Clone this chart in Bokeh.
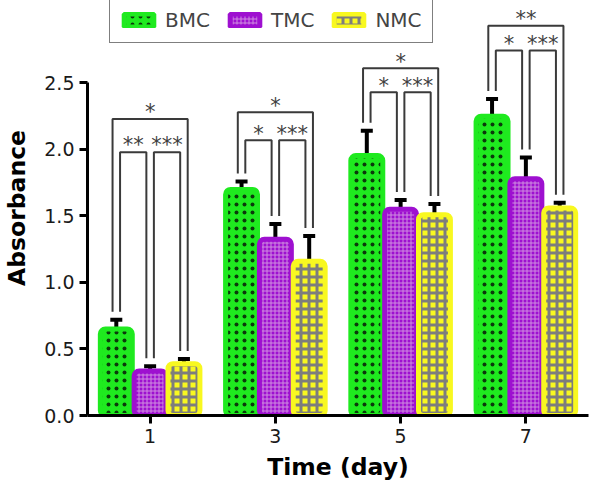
from bokeh.plotting import figure
from bokeh.models import (ColumnDataSource, Range1d, FixedTicker, Whisker, TeeHead,
                          Legend, LegendItem, NumeralTickFormatter)
from bokeh.core.properties import value
from bokeh.embed import file_html
from bokeh.resources import INLINE

# ---------------- data ----------------
days = [1, 3, 5, 7]
series = ["BMC", "TMC", "NMC"]
bmc = [0.65, 1.70, 1.955, 2.25]
bmc_err = [0.07, 0.06, 0.185, 0.13]
tmc = [0.335, 1.325, 1.55, 1.78]
tmc_err = [0.035, 0.115, 0.07, 0.16]
nmc = [0.39, 1.16, 1.51, 1.56]
nmc_err = [0.035, 0.19, 0.08, 0.04]
inner_level = [1.98, 2.07, 2.43, 2.745]
outer_level = [2.23, 2.28, 2.61, 2.93]
star_bn = ["*", "*", "*", "**"]
star_bt = ["**", "*", "*", "*"]
star_tn = ["***", "***", "***", "***"]
y_ticks = [0.0, 0.5, 1.0, 1.5, 2.0, 2.5]

# ---------------- style ----------------
OFF = 0.54
W = 0.51
LEG = 0.06
GAP = 0.06
colors = {"BMC": "#1fea1f", "TMC": "#9e10d0", "NMC": "#f8f820"}
hatch = {
    "BMC": dict(hatch_pattern="dot", hatch_color="#0b3a0b", hatch_scale=8, hatch_weight=1.0),
    "TMC": dict(hatch_pattern="cross", hatch_color="#cf8ee0", hatch_scale=4, hatch_weight=1.0),
    "NMC": dict(hatch_pattern="cross", hatch_color="#7d7d7d", hatch_scale=8, hatch_weight=3.0),
}
FONT = "DejaVu Sans"
FIG_W, FIG_H = 590, 487
B_BOTTOM = 72
FRAME_H = FIG_H - B_BOTTOM

p = figure(width=FIG_W, height=FIG_H, output_backend="svg", toolbar_location=None,
           x_range=Range1d(0, 8.0), y_range=Range1d(0, 3.12),
           min_border_left=83, min_border_right=2, min_border_top=0,
           min_border_bottom=B_BOTTOM)
p.outline_line_color = None
p.xgrid.visible = False
p.ygrid.visible = False

vals = {"BMC": bmc, "TMC": tmc, "NMC": nmc}
errs = {"BMC": bmc_err, "TMC": tmc_err, "NMC": nmc_err}
offs = {"BMC": -OFF, "TMC": 0.0, "NMC": OFF}

items = []
for s in series:
    xs = [d + offs[s] for d in days]
    top = vals[s]
    up = [t + e for t, e in zip(top, errs[s])]
    src = ColumnDataSource(dict(x=xs, top=top, up=up))
    r = p.vbar(x="x", top="top", width=W, source=src, fill_color=colors[s],
               line_color=colors[s], line_width=5, border_radius=5, **hatch[s])
    items.append(LegendItem(label=s, renderers=[r]))
    wk = Whisker(base="x", lower="top", upper="up", source=src, line_color="black",
                 line_width=4, lower_head=None,
                 upper_head=TeeHead(size=12, line_width=4, line_color="black"))
    p.add_layout(wk)

# significance brackets
bx, by, tx, ty, tt = [], [], [], [], []
for i, d in enumerate(days):
    cb, ct, cn = d - OFF, d, d + OFF
    bb = bmc[i] + bmc_err[i] + GAP
    bt = tmc[i] + tmc_err[i] + GAP
    bn = nmc[i] + nmc_err[i] + GAP
    bx.append([cb - LEG, cb - LEG, cn + LEG, cn + LEG]); by.append([bb, outer_level[i], outer_level[i], bn])
    bx.append([cb + LEG, cb + LEG, ct - LEG, ct - LEG]); by.append([bb, inner_level[i], inner_level[i], bt])
    bx.append([ct + LEG, ct + LEG, cn - LEG, cn - LEG]); by.append([bt, inner_level[i], inner_level[i], bn])
    tx += [(cb + cn) / 2, (cb + ct) / 2, (ct + cn) / 2]
    ty += [outer_level[i], inner_level[i], inner_level[i]]
    tt += [star_bn[i], star_bt[i], star_tn[i]]
p.multi_line(xs=bx, ys=by, line_color="#3a3a3a", line_width=2)
p.text(x=tx, y=[v + 0.05 for v in ty], text=tt, text_align="center", text_baseline="alphabetic",
       text_font=value("DejaVu Sans"), text_font_size="21px", text_color="#404040")

# axes
for ax in (p.xaxis[0], p.yaxis[0]):
    ax.axis_line_width = 3
    ax.major_tick_line_width = 3
    ax.major_tick_out = 8
    ax.major_tick_in = 0
    ax.minor_tick_line_color = None
    ax.major_label_text_font = FONT
    ax.major_label_text_font_size = "19px"
    ax.major_label_text_color = "#1a1a1a"
    ax.axis_label_text_font = FONT
    ax.axis_label_text_font_style = "bold"
    ax.axis_label_text_font_size = "23.5px"
    ax.axis_label_text_color = "black"
p.xaxis.ticker = FixedTicker(ticks=days)
p.yaxis.ticker = FixedTicker(ticks=y_ticks)
p.yaxis.formatter = NumeralTickFormatter(format="0.0")
p.yaxis.bounds = (0, 2.5)
p.xaxis.axis_label = "Time (day)"
p.yaxis.axis_label = "Absorbance"
p.xaxis.major_label_standoff = 5
p.yaxis.major_label_standoff = 5
p.xaxis.axis_label_standoff = 7
p.yaxis.axis_label_standoff = 10

LEG_H = 42
legend = Legend(items=items, orientation="horizontal", location=(22, FRAME_H - LEG_H - 1),
                glyph_width=37, glyph_height=16, label_standoff=8, spacing=16,
                padding=10, margin=0, label_text_font=FONT, label_text_font_size="20px",
                border_line_color="black", border_line_width=1.5,
                background_fill_color="white", background_fill_alpha=1.0)
p.add_layout(legend)

open("out.html", "w").write(file_html(p, INLINE))
